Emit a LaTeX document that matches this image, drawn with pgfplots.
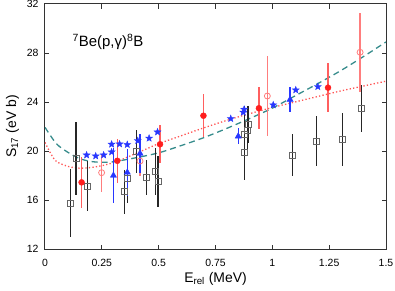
\documentclass[border=0pt]{standalone}
\usepackage{fontspec}
\setmainfont{Liberation Sans}
\usepackage{pgfplots}
\usepackage{pgfplotstable}
\pgfplotsset{compat=1.18}
\definecolor{myred}{RGB}{255,30,30}
\definecolor{myredbar}{RGB}{255,95,95}
\definecolor{mypink}{RGB}{255,125,125}
\definecolor{myblue}{RGB}{40,55,255}
\definecolor{myteal}{RGB}{55,140,140}
\definecolor{mydot}{RGB}{255,85,85}
\pgfdeclareplotmark{fstar}{%
  \pgfpathmoveto{\pgfpointpolar{90}{\pgfplotmarksize}}%
  \pgfpathlineto{\pgfpointpolar{126}{0.42\pgfplotmarksize}}%
  \pgfpathlineto{\pgfpointpolar{162}{\pgfplotmarksize}}%
  \pgfpathlineto{\pgfpointpolar{198}{0.42\pgfplotmarksize}}%
  \pgfpathlineto{\pgfpointpolar{234}{\pgfplotmarksize}}%
  \pgfpathlineto{\pgfpointpolar{270}{0.42\pgfplotmarksize}}%
  \pgfpathlineto{\pgfpointpolar{306}{\pgfplotmarksize}}%
  \pgfpathlineto{\pgfpointpolar{342}{0.42\pgfplotmarksize}}%
  \pgfpathlineto{\pgfpointpolar{18}{\pgfplotmarksize}}%
  \pgfpathlineto{\pgfpointpolar{54}{0.42\pgfplotmarksize}}%
  \pgfpathclose
  \pgfusepathqfillstroke}

\pgfplotstableread{
x y e
0.113 15.75 2.8
0.136 19.40 3.0
0.188 17.15 2.05
0.351 16.68 1.8
0.364 17.77 2.0
0.403 19.94 1.77
0.447 17.85 1.43
0.486 18.31 1.9
0.497 17.49 2.1
0.877 19.86 2.2
0.877 21.39 2.3
0.892 21.71 2.0
0.894 22.15 1.5
1.090 19.67 1.7
1.195 20.82 2.07
1.308 20.95 2.15
1.393 23.49 1.9
}\squares
\pgfplotstableread{
x y e
0.161 17.44 2.07
0.318 19.20 1.8
0.506 20.55 1.55
0.697 22.88 1.75
0.941 23.49 1.7
1.245 25.17 1.98
}\redfilled
\pgfplotstableread{
x y e
0.249 18.23 1.55
0.418 19.18 1.2
0.978 24.49 3.27
1.386 28.06 3.22
}\redopen
\pgfplotstableread{
x y e
0.301 18.00 2.27
0.362 18.25 1.9
0.418 19.80 1.6
0.850 21.20 0.65
1.078 24.20 1.0
}\triangles
\pgfplotstableread{
x y
0.183 19.67
0.223 19.59
0.258 19.67
0.293 19.92
0.293 20.55
0.328 20.57
0.362 20.52
0.408 20.84
0.458 21.04
0.495 21.55
0.817 22.64
0.872 23.16
0.876 23.40
1.004 23.76
1.103 24.98
1.200 25.25
}\stars
\pgfplotstableread{
x y
0.000 20.70
0.025 19.80
0.050 19.15
0.100 18.75
0.150 18.60
0.200 18.65
0.250 18.80
0.300 19.05
0.350 19.40
0.400 19.80
0.450 20.20
0.500 20.60
0.600 21.25
0.700 21.90
0.800 22.50
0.900 23.05
1.000 23.55
1.100 24.00
1.200 24.45
1.300 24.90
1.400 25.30
1.500 25.70
}\reddot
\pgfplotstableread{
x y
0.000 21.93
0.050 20.60
0.100 19.90
0.150 19.40
0.200 19.15
0.250 19.08
0.300 19.12
0.400 19.45
0.500 19.85
0.600 20.45
0.700 21.10
0.800 21.85
0.900 22.65
1.000 23.50
1.100 24.50
1.200 25.50
1.300 26.55
1.400 27.70
1.500 28.90
}\tealdash

\begin{document}
\begin{tikzpicture}
\path[use as bounding box] (-45bp,-42bp) rectangle (350bp,249bp);
\begin{axis}[
  at={(0,0)}, anchor=south west,
  scale only axis, width=341bp, height=245bp,
  xmin=0, xmax=1.5, ymin=12, ymax=32,
  xtick={0,0.25,0.5,0.75,1,1.25,1.5},
  xticklabels={0,0.25,0.5,0.75,1,1.25,1.5},
  ytick={12,16,20,24,28,32},
  yticklabels={12,16,20,24,28,32},
  tick align=inside, major tick length=4.5bp,
  minor tick num=0,
  axis line style={draw=black!80, line width=1bp},
  tick style={draw=black!80, line width=1bp},
  xticklabel style={font=\fontsize{10.5}{12}\selectfont, yshift=-7bp},
  yticklabel style={font=\fontsize{10.5}{12}\selectfont, xshift=-3bp},
  xlabel={E\textsubscript{rel} (MeV)},
  ylabel={S\textsubscript{17} (eV b)},
  xlabel style={font=\fontsize{14}{16}\selectfont, at={(axis description cs:0.5,-0.135)}, anchor=base},
  ylabel style={font=\fontsize{14}{16}\selectfont, at={(axis description cs:-0.085,0.5)}, anchor=base, rotate=0},
  clip=true,
]
\addplot[mydot, line width=1.3bp, dash pattern=on 1.3bp off 2.2bp, smooth] table[x=x,y=y]{\reddot};
\addplot[myteal, line width=1.3bp, dash pattern=on 6bp off 4bp, smooth] table[x=x,y=y]{\tealdash};
\addplot[only marks, mark=square, mark size=3bp, mark options={draw=black!60, fill=white, line width=0.8bp},
  error bars/.cd, y dir=both, y explicit, error mark=none,
  error bar style={black!85, line width=1.3bp}] table[x=x,y=y,y error=e]{\squares};
\addplot[only marks, mark=o, mark size=3bp, mark options={draw=mypink, line width=0.8bp},
  error bars/.cd, y dir=both, y explicit, error mark=none,
  error bar style={mypink, line width=1.3bp}] table[x=x,y=y,y error=e]{\redopen};
\addplot[only marks, mark=*, mark size=3bp, mark options={draw=myred, fill=myred},
  error bars/.cd, y dir=both, y explicit, error mark=none,
  error bar style={myredbar, line width=1.3bp}] table[x=x,y=y,y error=e]{\redfilled};
\addplot[only marks, mark=triangle*, mark size=3.6bp, mark options={draw=myblue, fill=myblue},
  error bars/.cd, y dir=both, y explicit, error mark=none,
  error bar style={myblue, line width=1.3bp}] table[x=x,y=y,y error=e]{\triangles};
\addplot[only marks, mark=fstar, mark size=3.6bp, mark options={draw=myblue, fill=myblue, line width=0.4bp}] table[x=x,y=y]{\stars};
\node[font=\fontsize{15}{18}\selectfont, anchor=center] at (axis cs:0.277,28.9) {\textsuperscript{7}Be(p,γ)\textsuperscript{8}B};
\end{axis}
\end{tikzpicture}
\end{document}
